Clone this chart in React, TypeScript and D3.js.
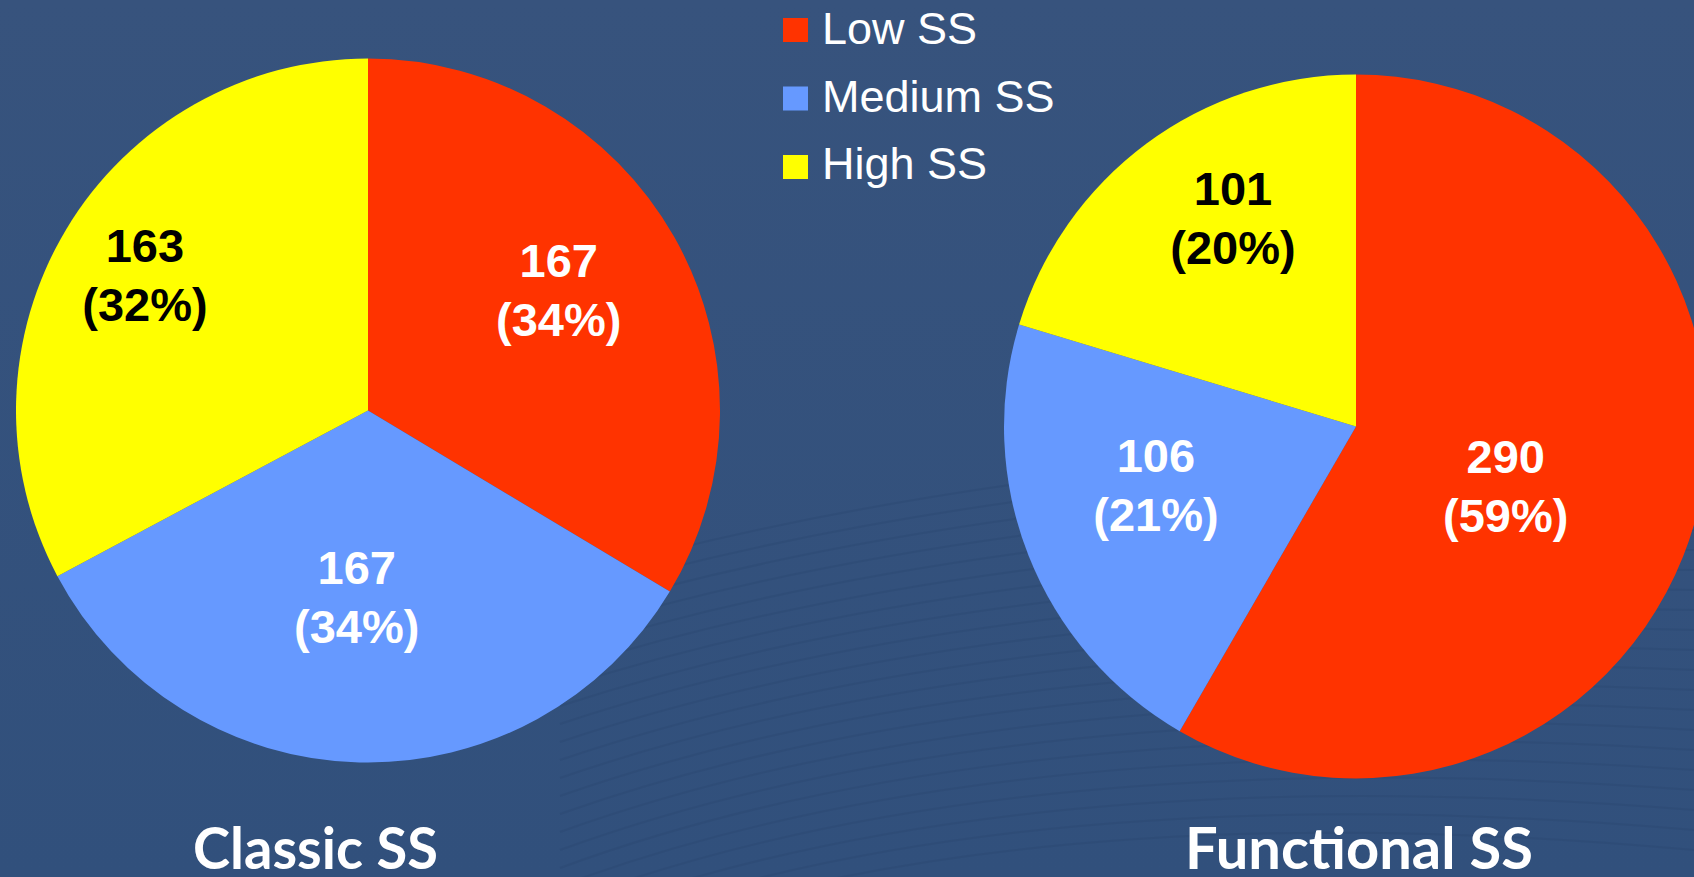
import React from "react";
import * as d3 from "d3";

// ---- data ----
const categories = ["Low SS", "Medium SS", "High SS"];
const classicValues = [167, 167, 163];
const classicPercents = [34, 34, 32];
const functionalValues = [290, 106, 101];
const functionalPercents = [59, 21, 20];
const pieTitles = ["Classic SS", "Functional SS"];

// ---- styles / layout ----
const W = 1694;
const H = 877;
const colors = ["#FF3300", "#6699FF", "#FFFF00"];
const labelColors = ["#FFFFFF", "#FFFFFF", "#000000"];
const R = 352;
const pies = [
  {
    values: classicValues,
    percents: classicPercents,
    cx: 368,
    cy: 410.5,
    labelR: [226, 187, 261],
    labelDa: [-2.9, 2, 0.3],
    title: pieTitles[0],
    titleX: 193,
    titleW: 245,
  },
  {
    values: functionalValues,
    percents: functionalPercents,
    cx: 1356,
    cy: 426.5,
    labelR: [161, 208.5, 242.5],
    labelDa: [6.5, 5.2, 6.1],
    title: pieTitles[1],
    titleX: 1185,
    titleW: 348,
  },
];

const labelFont = "'Liberation Sans', Arial, sans-serif";

export default function App() {
  const pieGen = d3
    .pie<number>()
    .value((d) => d)
    .sort(null);
  const arcGen = d3.arc<d3.PieArcDatum<number>>().innerRadius(0).outerRadius(R);

  // background curves
  const curves = d3.range(22).map((i) => {
    const y0 = 470 + i * 14;
    const path = d3.path();
    path.moveTo(560, y0 + 110 + i * 4);
    path.quadraticCurveTo(1000, y0 - 20 + i * 2, 1694, y0 - 40 + i * 6);
    return path.toString();
  });

  return (
    <svg
      width={W}
      height={H}
      style={{ position: "absolute", left: 0, top: 0, display: "block" }}
    >
      <defs>
        <linearGradient id="bg" x1="0" y1="0" x2="0" y2="1">
          <stop offset="0" stopColor="#37537d" />
          <stop offset="1" stopColor="#31507c" />
        </linearGradient>
      </defs>
      <rect x={0} y={0} width={W} height={H} fill="url(#bg)" />
      <g fill="none" stroke="#2a4670" strokeWidth={2} opacity={0.35}>
        {curves.map((d, i) => (
          <path key={i} d={d} />
        ))}
      </g>

      {pies.map((p, pi) => {
        const arcs = pieGen(p.values);
        return (
          <g key={pi}>
            <g transform={`translate(${p.cx},${p.cy})`}>
              {arcs.map((a, i) => (
                <path key={i} d={arcGen(a) || ""} fill={colors[i]} />
              ))}
              {arcs.map((a, i) => {
                const mid = (a.startAngle + a.endAngle) / 2 + (p.labelDa[i] * Math.PI) / 180;
                const r = p.labelR[i];
                const x = r * Math.sin(mid);
                const y = -r * Math.cos(mid);
                return (
                  <text
                    key={"t" + i}
                    x={x}
                    y={y}
                    fill={labelColors[i]}
                    fontFamily={labelFont}
                    fontWeight="bold"
                    fontSize={47}
                    textAnchor="middle"
                  >
                    <tspan x={x} dy={-12.7}>
                      {p.values[i]}
                    </tspan>
                    <tspan x={x} dy={59}>
                      ({p.percents[i]}%)
                    </tspan>
                  </text>
                );
              })}
            </g>
            <text
              x={p.titleX}
              y={869}
              fill="#FFFFFF"
              fontFamily="Lato, 'Open Sans', sans-serif"
              fontWeight="bold"
              fontSize={57}
              textLength={p.titleW}
              lengthAdjust="spacingAndGlyphs"
            >
              {p.title}
            </text>
          </g>
        );
      })}

      <g>
        {categories.map((c, i) => (
          <g key={c}>
            <rect x={783} y={18 + i * 68.5} width={25} height={24} fill={colors[i]} />
            <text
              x={822}
              y={44 + i * 67.5}
              fill="#FFFFFF"
              fontFamily={labelFont}
              fontSize={45}
            >
              {c}
            </text>
          </g>
        ))}
      </g>
    </svg>
  );
}
